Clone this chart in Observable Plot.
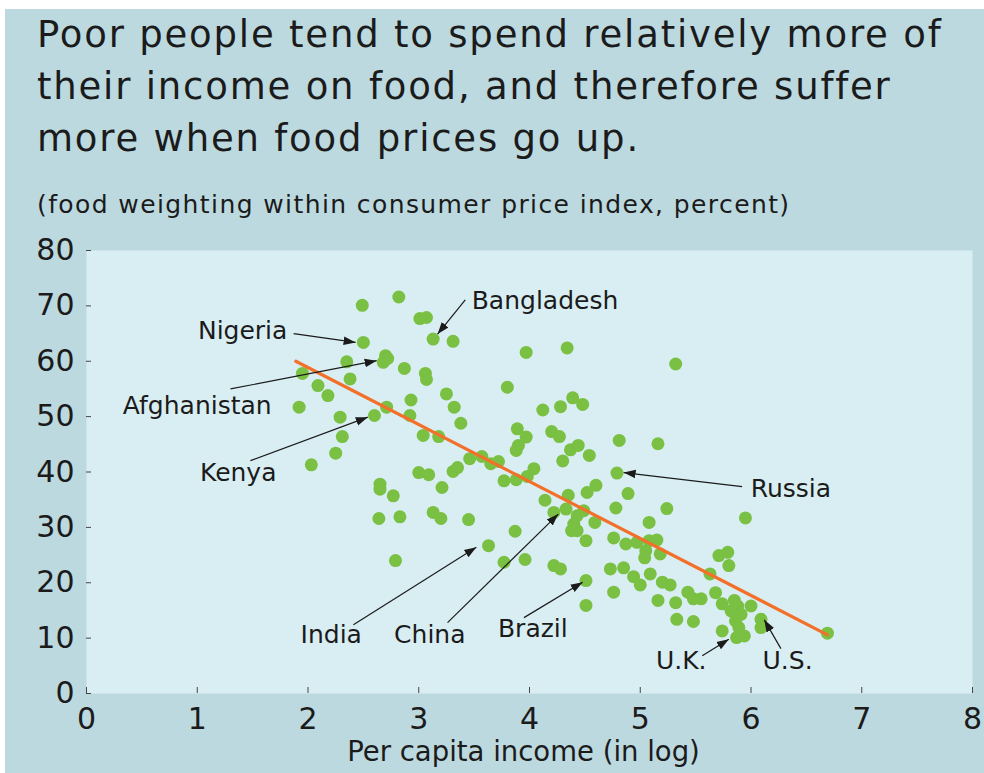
<!DOCTYPE html>
<html><head><meta charset="utf-8">
<script src="https://cdn.jsdelivr.net/npm/d3@7"></script>
<script src="https://cdn.jsdelivr.net/npm/@observablehq/plot@0.6"></script>
<style>
html,body{margin:0;padding:0;background:#fff;}
#card{position:absolute;left:5px;top:9px;width:979px;height:764px;background:#bcd9df;font-family:"DejaVu Sans",sans-serif;color:#1b1b1b;overflow:hidden}
#title{position:absolute;left:32px;top:0;font-size:37px;line-height:52px;letter-spacing:1.8px;white-space:nowrap}
#subtitle{position:absolute;left:32px;top:181px;font-size:25px;line-height:30px;letter-spacing:1.4px;white-space:nowrap}
#chart{position:absolute;left:0;top:226px}
</style></head><body>
<div id="card">
<div id="title">Poor people tend to spend relatively more of<br>their income on food, and therefore suffer<br>more when food prices go up.</div>
<div id="subtitle">(food weighting within consumer price index, percent)</div>
<div id="chart"></div>
</div>
<script>
const income = [2.49, 2.82, 3.01, 3.07, 3.13, 3.31, 2.50, 2.70, 2.68, 2.72,
  2.35, 2.87, 3.06, 3.07, 1.95, 2.38, 2.09, 2.18, 1.92, 3.25,
  2.93, 2.71, 3.32, 2.60, 2.92, 2.29, 3.38, 2.31, 3.04, 3.18,
  2.25, 2.03, 3.46, 3.57, 2.65, 2.65, 2.77, 3.00, 3.09, 3.21,
  3.31, 3.35, 2.64, 2.83, 3.13, 3.20, 3.45, 2.79, 3.97, 4.34,
  3.80, 4.39, 4.48, 4.28, 4.12, 3.89, 3.97, 3.90, 3.88, 4.20,
  4.27, 4.37, 4.44, 4.54, 4.30, 4.81, 5.16, 4.79, 3.65, 3.72,
  3.77, 3.88, 3.98, 4.04, 4.60, 4.52, 4.35, 4.89, 4.14, 4.22,
  4.33, 4.43, 4.49, 4.40, 4.43, 4.38, 4.59, 4.78, 5.08, 4.51,
  4.76, 4.87, 4.97, 5.08, 5.15, 5.05, 5.04, 5.18, 3.63, 3.87,
  3.77, 3.96, 4.22, 4.28, 4.51, 4.51, 4.73, 4.85, 4.94, 5.00,
  5.09, 4.76, 5.16, 5.24, 5.95, 5.20, 5.27, 5.71, 5.79, 5.80,
  5.63, 5.43, 5.48, 5.55, 5.68, 5.32, 5.33, 5.48, 5.74, 5.85,
  5.88, 5.82, 5.91, 5.86, 5.89, 5.87, 5.94, 6.00, 6.09, 6.09,
  5.74, 6.69, 5.32];
const foodShare = [70.1, 71.6, 67.7, 67.9, 64.0, 63.6, 63.4, 61.0, 59.8, 60.5,
  59.9, 58.7, 57.8, 56.7, 57.8, 56.8, 55.6, 53.8, 51.7, 54.1,
  53.0, 51.7, 51.7, 50.2, 50.2, 49.9, 48.8, 46.4, 46.6, 46.4,
  43.4, 41.3, 42.4, 42.8, 37.8, 36.9, 35.7, 39.9, 39.5, 37.2,
  40.1, 40.8, 31.6, 31.9, 32.7, 31.6, 31.4, 24.0, 61.6, 62.4,
  55.3, 53.4, 52.2, 51.8, 51.2, 47.8, 46.3, 44.8, 43.9, 47.3,
  46.4, 44.0, 44.8, 43.0, 42.0, 45.7, 45.1, 39.8, 41.5, 41.9,
  38.4, 38.6, 39.2, 40.6, 37.6, 36.3, 35.8, 36.1, 34.9, 32.7,
  33.3, 32.1, 33.0, 30.6, 29.4, 29.4, 30.9, 33.5, 30.9, 27.6,
  28.1, 27.0, 27.3, 27.6, 27.7, 25.8, 24.5, 25.2, 26.7, 29.3,
  23.7, 24.2, 23.1, 22.5, 20.4, 15.9, 22.5, 22.7, 21.1, 19.6,
  21.6, 18.3, 16.8, 33.4, 31.7, 20.1, 19.6, 24.9, 25.5, 23.1,
  21.6, 18.3, 17.1, 17.1, 18.2, 16.4, 13.4, 13.0, 16.2, 16.8,
  15.8, 14.9, 14.3, 13.1, 11.9, 10.1, 10.4, 15.8, 13.4, 11.9,
  11.3, 10.9, 59.5];

const fitIncome = [1.89, 6.69];
const fitShare = [60.0, 10.6];

const xTicks = [0, 1, 2, 3, 4, 5, 6, 7, 8];
const yTicks = [0, 10, 20, 30, 40, 50, 60, 70, 80];
const xTitle = "Per capita income (in log)";

const labelNames = ["Nigeria", "Bangladesh", "Afghanistan", "Kenya", "India", "China", "Brazil", "Russia", "U.K.", "U.S."];
const labelX = [1.41, 4.14, 1.00, 1.37, 2.21, 3.10, 4.03, 6.36, 5.37, 6.33];
const labelY = [65.5, 70.9, 52.0, 39.9, 10.6, 10.6, 11.7, 37.0, 5.9, 5.9];
const arrowFromX = [1.87, 3.42, 1.30, 1.48, 2.41, 3.26, 3.95, 5.92, 5.56, 6.27];
const arrowFromY = [65.0, 71.1, 55.0, 42.05, 12.4, 12.8, 13.7, 37.35, 6.8, 8.1];
const arrowToX = [2.43, 3.17, 2.62, 2.54, 3.52, 4.26, 4.48, 4.85, 5.80, 6.12];
const arrowToY = [63.4, 64.9, 60.1, 49.9, 26.4, 32.4, 20.1, 39.9, 9.8, 13.3];

const INK = "#1b1b1b";
const points = income.map((x, i) => ({x, y: foodShare[i]}));
const fit = fitIncome.map((x, i) => ({x, y: fitShare[i]}));
const notes = labelNames.map((name, i) => ({
  name, lx: labelX[i], ly: labelY[i],
  x1: arrowFromX[i], y1: arrowFromY[i], x2: arrowToX[i], y2: arrowToY[i]
}));

const chart = Plot.plot({
  width: 979,
  height: 538,
  marginLeft: 81,
  marginRight: 12,
  marginTop: 15,
  marginBottom: 80,
  x: {domain: [0, 8], label: null},
  y: {domain: [0, 80], label: null},
  style: {fontFamily: "DejaVu Sans, sans-serif", fontSize: "30px", color: INK, background: "transparent", overflow: "visible"},
  marks: [
    Plot.frame({fill: "#d9eef3", stroke: null}),
    Plot.axisY(yTicks, {tickSize: -5, tickPadding: 17, fontSize: 30, stroke: "#444", label: null}),
    Plot.axisX(xTicks, {tickSize: -6, tickPadding: 20, fontSize: 30, stroke: "#444", label: null}),
    Plot.text([xTitle], {frameAnchor: "bottom", lineAnchor: "middle", dy: 59, dx: -6, text: d => d, fontSize: 27.5, fill: INK}),
    Plot.dot(points, {x: "x", y: "y", r: 6.5, fill: "#79c043"}),
    Plot.line(fit, {x: "x", y: "y", stroke: "#f3702b", strokeWidth: 3.2}),
    Plot.link(notes, {x1: "x1", y1: "y1", x2: "x2", y2: "y2", stroke: INK, strokeWidth: 1.2, markerEnd: "arrow"}),
    Plot.text(notes, {x: "lx", y: "ly", text: "name", fontSize: 25, fill: INK})
  ]
});

chart.querySelectorAll("marker").forEach(m => {
  m.setAttribute("viewBox", "-10 -5 10 10");
  m.setAttribute("markerWidth", 10);
  m.setAttribute("markerHeight", 10);
  m.setAttribute("fill", INK);
  m.setAttribute("stroke", "none");
  const p = m.querySelector("path");
  if (p) p.setAttribute("d", "M-10,-3.6L0,0L-10,3.6Z");
});

document.getElementById("chart").appendChild(chart);
</script>
</body></html>
